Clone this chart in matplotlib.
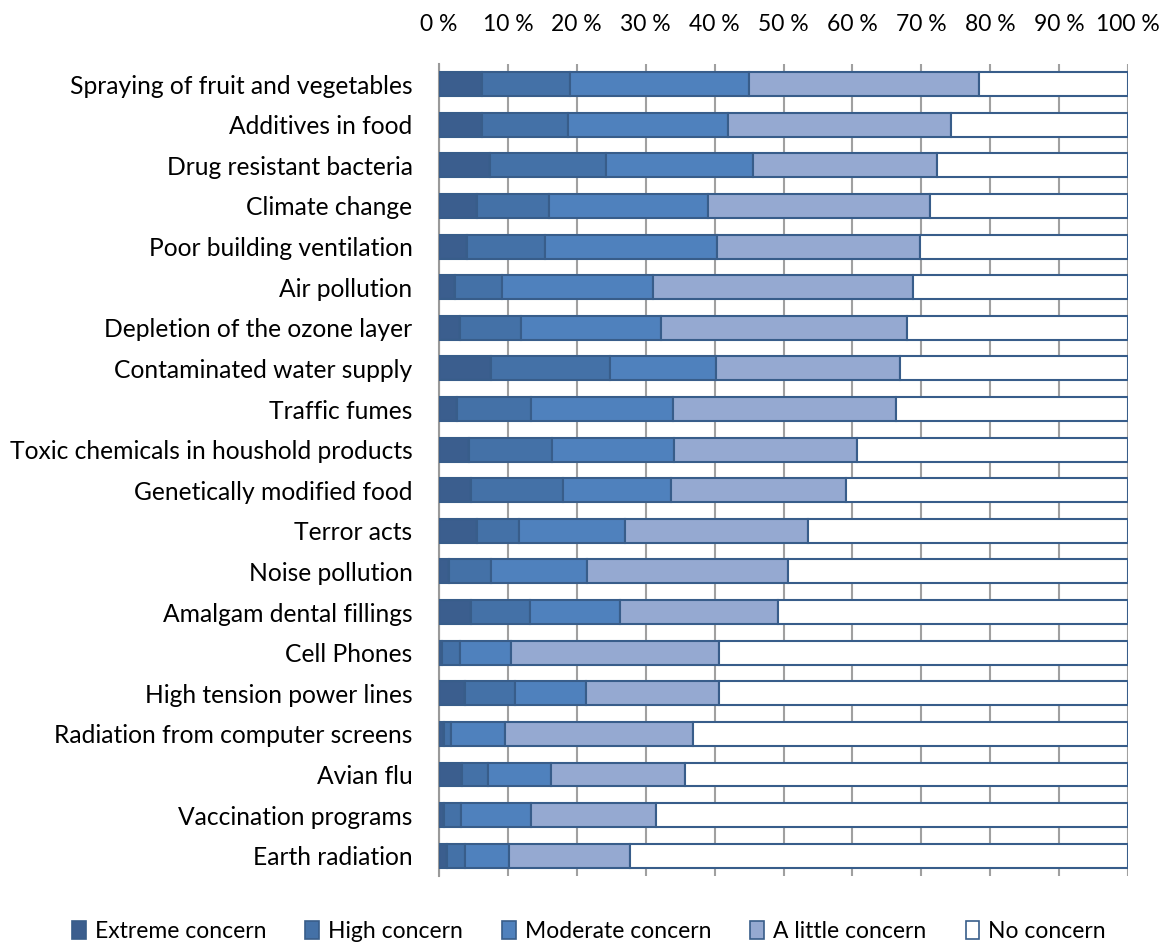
import numpy as np
import matplotlib.pyplot as plt
from matplotlib.patches import Patch

plt.rcParams['font.family'] = ['Lato', 'DejaVu Sans']

categories = [
    "Spraying of fruit and vegetables",
    "Additives in food",
    "Drug resistant bacteria",
    "Climate change",
    "Poor building ventilation",
    "Air pollution",
    "Depletion of the ozone layer",
    "Contaminated water supply",
    "Traffic fumes",
    "Toxic chemicals in houshold products",
    "Genetically modified food",
    "Terror acts",
    "Noise pollution",
    "Amalgam dental fillings",
    "Cell Phones",
    "High tension power lines",
    "Radiation from computer screens",
    "Avian flu",
    "Vaccination programs",
    "Earth radiation",
]

# cumulative shares (%) at the end of each concern level
extreme_cum = [6.2, 6.2, 7.4, 5.5, 4.1, 2.3, 3.0, 7.5, 2.6, 4.4,
               4.6, 5.5, 1.5, 4.7, 0.5, 3.7, 0.7, 3.4, 0.7, 1.2]
high_cum = [19.0, 18.7, 24.2, 16.0, 15.4, 9.2, 11.9, 24.8, 13.4, 16.4,
            18.0, 11.6, 7.5, 13.2, 3.1, 11.0, 1.7, 7.1, 3.2, 3.7]
moderate_cum = [45.0, 42.0, 45.6, 39.1, 40.3, 31.0, 32.2, 40.2, 34.0, 34.1,
                33.7, 27.0, 21.5, 26.2, 10.4, 21.3, 9.6, 16.3, 13.3, 10.2]
little_cum = [78.4, 74.3, 72.3, 71.3, 69.8, 68.8, 67.9, 66.9, 66.3, 60.7,
              59.1, 53.6, 50.6, 49.2, 40.6, 40.6, 36.9, 35.7, 31.5, 27.7]

levels = ["Extreme concern", "High concern", "Moderate concern",
          "A little concern", "No concern"]
colors = ["#3b5e8e", "#4471a7", "#4f81bd", "#95a9d1", "#ffffff"]
edge = "#385d8a"

cum = np.array([np.zeros(len(categories)), extreme_cum, high_cum,
                moderate_cum, little_cum, np.full(len(categories), 100.0)])
widths = np.diff(cum, axis=0)
lefts = cum[:-1]

fig = plt.figure(figsize=(11.71, 9.44), dpi=100)
ax = fig.add_axes([0.3749, 0.072, 0.5884, 0.8604])

y = np.arange(len(categories))
for i, lab in enumerate(levels):
    ax.barh(y, widths[i], left=lefts[i], height=0.59, color=colors[i],
            edgecolor=edge, linewidth=1.5, label=lab, zorder=3)

ax.set_ylim(len(categories) - 0.5, -0.5)
ax.set_xlim(0, 100)
ax.set_yticks(y)
ax.set_yticklabels(categories, fontsize=17.7)
ax.tick_params(axis='y', length=0, pad=19)

# bottom axis: gridlines only, no labels
ax.set_xticks(np.arange(0, 101, 10))
ax.tick_params(axis='x', length=0, labelbottom=False)
ax.xaxis.grid(True, color="#a0a0a0", linewidth=1.5, zorder=0)
ax.set_axisbelow(True)

for s in ["top", "right", "bottom"]:
    ax.spines[s].set_visible(False)
ax.spines["left"].set_color("#9a9a9a")
ax.spines["left"].set_linewidth(1.5)

# percent labels along the top
top = ax.secondary_xaxis('top')
top.set_xticks(np.arange(0, 101, 10))
top.set_xticklabels([f"{v} %" for v in range(0, 101, 10)], fontsize=16.5)
top.tick_params(length=0, pad=21)
top.spines["top"].set_visible(False)

handles = [Patch(facecolor=c, edgecolor=edge, linewidth=1.2) for c in colors]
fig.legend(handles, levels, loc='center', bbox_to_anchor=(0.503, 0.013),
           ncol=5, frameon=False, fontsize=16.5, handlelength=0.6,
           handleheight=0.8, handletextpad=0.4, columnspacing=1.7)

fig.savefig("out.png", dpi=100)
